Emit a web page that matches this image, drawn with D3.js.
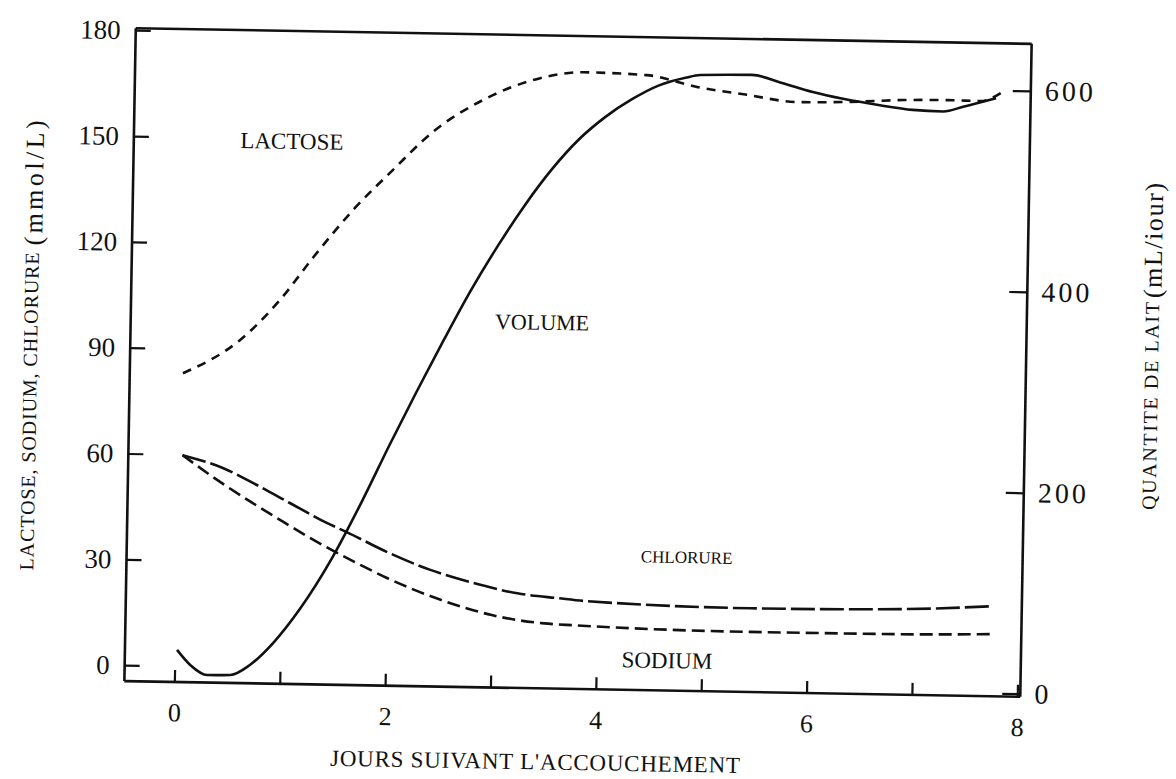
<!DOCTYPE html>
<meta charset="utf-8">
<style>
    body {
        margin: 0;
        background: #fff;
    }

    svg {
        font-family: "Liberation Serif", "DejaVu Serif", serif;
    }

    text {
        fill: #111;
    }

    .frame line {
        stroke: #111;
        stroke-width: 2.6;
    }

    .axis line {
        stroke: #111;
        stroke-width: 2.2;
    }

    .curve {
        fill: none;
        stroke: #111;
        stroke-width: 2.6;
    }
</style>

<body>
    <script src="https://d3js.org/d3.v7.min.js"></script>
    <script>
        var width = 1176,
            height = 779,
            box = { left: 130, right: 1026, top: 36, bottom: 689 };

        // ticks
        var dayTicks = [0, 1, 2, 3, 4, 5, 6, 7, 8],
            dayLabels = ["0", "", "2", "", "4", "", "6", "", "8"],
            leftTicks = [0, 30, 60, 90, 120, 150, 180],
            rightTicks = [0, 200, 400, 600];

        // lactose (mmol/L)
        var lactoseDays = [0.03, 0.57, 0.94, 1.25, 1.62, 1.99, 2.36, 2.83, 3.37, 3.78, 4.38, 4.86, 5.34, 5.81, 6.29, 6.82, 7.23, 7.55, 7.76];
        var lactose = [83.0, 92.8, 104.3, 116.6, 130.2, 141.7, 152.6, 161.9, 168.4, 170.3, 169.8, 166.7, 164.7, 162.9, 163.2, 164.0, 164.2, 164.1, 166.8];

        // chlorure (mmol/L)
        var chlorureDays = [0.04, 0.43, 0.75, 1.07, 1.42, 1.61, 2.0, 2.41, 2.82, 3.24, 3.63, 3.9, 5.45, 6.87, 7.75];
        var chlorure = [59.8, 56.3, 51.7, 46.7, 41.3, 38.8, 33.3, 28.5, 25.0, 22.3, 21.1, 20.4, 19.2, 19.7, 21.0];

        // sodium (mmol/L)
        var sodiumDays = [0.04, 0.4, 0.7, 1.0, 1.25, 1.5, 1.75, 2.0, 2.25, 2.5, 2.75, 3.0, 3.25, 3.5, 3.8, 5.45, 6.88, 7.76];
        var sodium = [59.8, 52.4, 46.8, 41.5, 37.2, 33.2, 29.5, 26.0, 22.9, 20.2, 17.9, 16.0, 14.7, 13.9, 13.5, 12.5, 12.6, 13.1];

        // volume (mL/jour)
        var volumeDays = [0.02, 0.15, 0.31, 0.53, 0.71, 0.93, 1.18, 1.47, 1.75, 2.0, 2.25, 2.5, 2.75, 3.0, 3.25, 3.5, 3.75, 4.0, 4.25, 4.5, 4.75, 4.89, 5.38, 5.65, 5.96, 6.6, 6.91, 7.2, 7.39, 7.7];
        var volume = [29, 14, 4.5, 5, 15, 37.5, 72, 122, 180, 236, 290, 342, 392, 437, 478, 514, 544, 567, 585, 599, 607, 610, 611, 604, 595, 583, 579, 578, 583, 592];

        var svg = d3.select("body").append("svg")
            .attr("width", width)
            .attr("height", height);

        // the scan is tilted by about one degree
        var g = svg.append("g")
            .attr("transform", "rotate(1,579,363)");

        var x = d3.scaleLinear().domain([0, 8]).range([180, 1023]);
        var yL = d3.scaleLinear().domain([0, 180]).range([673, 38]);
        var yR = d3.scaleLinear().domain([0, 600]).range([686, 83]);

        // frame
        var frame = g.append("g").attr("class", "frame");
        frame.append("line").attr("x1", box.left).attr("x2", box.left).attr("y1", box.top).attr("y2", box.bottom);
        frame.append("line").attr("x1", box.right).attr("x2", box.right).attr("y1", box.top).attr("y2", box.bottom);
        frame.append("line").attr("x1", box.left).attr("x2", box.right).attr("y1", box.top).attr("y2", box.top);
        frame.append("line").attr("x1", box.left).attr("x2", box.right).attr("y1", box.bottom).attr("y2", box.bottom);

        // axes
        var axL = g.append("g").attr("class", "axis")
            .attr("transform", "translate(" + box.left + ",0)")
            .call(d3.axisLeft(yL).tickValues(leftTicks).tickSizeInner(-15).tickSizeOuter(0).tickPadding(15));

        var axB = g.append("g").attr("class", "axis")
            .attr("transform", "translate(0," + box.bottom + ")")
            .call(d3.axisBottom(x).tickValues(dayTicks).tickSizeInner(-12).tickSizeOuter(0).tickPadding(21)
                .tickFormat(function(d, i) { return dayLabels[i]; }));

        var axR = g.append("g").attr("class", "axis")
            .attr("transform", "translate(" + box.right + ",0)")
            .call(d3.axisRight(yR).tickValues(rightTicks).tickSizeInner(-18).tickSizeOuter(0).tickPadding(14));

        [axL, axB, axR].forEach(function(a) {
            a.attr("font-family", null).attr("font-size", null);
            a.select(".domain").remove();
        });
        axL.selectAll("text").style("font-size", "27px");
        axB.selectAll("text").style("font-size", "26px");
        axR.selectAll("text").style("font-size", "28px").attr("textLength", function(d) { return d ? 48 : 15; });

        // curves
        function curve(days, vals, yScale) {
            return d3.line()
                .x(function(d, i) { return x(days[i]); })
                .y(function(d) { return yScale(d); })
                .curve(d3.curveMonotoneX)(vals);
        }

        g.append("path").attr("class", "curve").attr("d", curve(lactoseDays, lactose, yL))
            .attr("stroke-dasharray", "9,7");
        g.append("path").attr("class", "curve").attr("d", curve(chlorureDays, chlorure, yL))
            .attr("stroke-dasharray", "24,5");
        g.append("path").attr("class", "curve").attr("d", curve(sodiumDays, sodium, yL))
            .attr("stroke-dasharray", "13,6");
        g.append("path").attr("class", "curve").attr("d", curve(volumeDays, volume, yR));

        // series labels
        var labels = [
            { text: "LACTOSE", day: 1.025, value: 149.4, size: 23 },
            { text: "VOLUME", day: 3.43, value: 99.3, size: 22 },
            { text: "CHLORURE", day: 4.84, value: 33.4, size: 17 },
            { text: "SODIUM", day: 4.67, value: 4.1, size: 23 }
        ];
        g.selectAll(".lbl").data(labels).enter().append("text")
            .attr("class", "lbl")
            .attr("x", function(d) { return x(d.day); })
            .attr("y", function(d) { return yL(d.value); })
            .attr("dy", "0.35em")
            .attr("text-anchor", "middle")
            .style("font-size", function(d) { return d.size + "px"; })
            .text(function(d) { return d.text; });

        // axis titles
        g.append("text")
            .attr("x", 542).attr("y", 762)
            .attr("dy", "0.35em")
            .attr("text-anchor", "middle")
            .style("font-size", "23px")
            .attr("textLength", 410)
            .text("JOURS SUIVANT L'ACCOUCHEMENT");

        g.append("text")
            .attr("transform", "translate(37,580) rotate(-90)")
            .style("font-size", "20px")
            .attr("textLength", 318)
            .text("LACTOSE, SODIUM, CHLORURE");
        g.append("text")
            .attr("transform", "translate(40,255) rotate(-90)")
            .style("font-size", "26px")
            .attr("textLength", 125)
            .text("(mmol/L)");

        g.append("text")
            .attr("transform", "translate(1158,500) rotate(-90)")
            .style("font-size", "20px")
            .attr("textLength", 208)
            .text("QUANTITE DE LAIT");
        g.append("text")
            .attr("transform", "translate(1160,288) rotate(-90)")
            .style("font-size", "26px")
            .attr("textLength", 115)
            .text("(mL/iour)");
    </script>
</body>

</html>
